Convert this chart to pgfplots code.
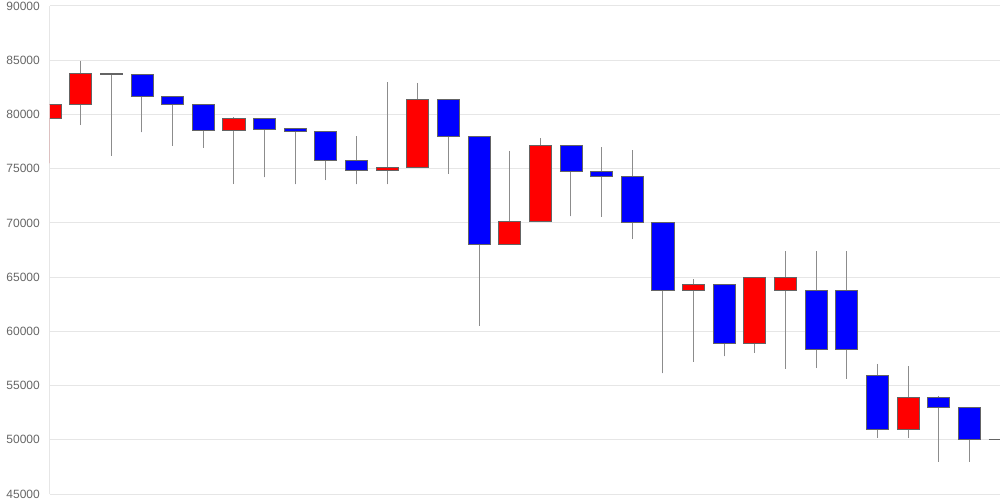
\documentclass[border=0pt]{standalone}
\usepackage{fontspec}
\setmainfont{Liberation Sans}
\usepackage{pgfplots}
\pgfplotsset{compat=1.18}
\usepgfplotslibrary{statistics}
\definecolor{gridcol}{RGB}{230,230,230}
\definecolor{labelcol}{RGB}{102,102,102}
\definecolor{bordercol}{RGB}{100,100,100}
\definecolor{wickcol}{RGB}{140,140,140}
\definecolor{upcol}{RGB}{255,0,0}
\definecolor{downcol}{RGB}{0,0,255}
\pgfplotsset{
  candlebase/.style={draw=bordercol, line width=0.8bp,
    boxplot/every whisker/.style={draw=wickcol, line width=1bp},
    boxplot/every median/.style={draw=bordercol, line width=0.8bp},
    boxplot/box extend=0.72, boxplot/whisker extend=0, boxplot/draw direction=y},
  candleup/.style={candlebase, fill=upcol},
  candledown/.style={candlebase, fill=downcol},
}
% #1 x, #2 open, #3 high, #4 low, #5 close
\newcommand{\candle}[5]{%
  \ifnum#5<#2\relax
    \def\candlelo{#5}\def\candlehi{#2}\def\candlecolor{candledown}%
  \else
    \def\candlelo{#2}\def\candlehi{#5}\def\candlecolor{candleup}%
  \fi
  \edef\candletmp{\noexpand\addplot[\candlecolor, boxplot prepared={draw position=#1, lower whisker=#4, lower quartile=\candlelo, median=#5, upper quartile=\candlehi, upper whisker=#3}] coordinates {};}%
  \candletmp
}
\begin{document}
\begin{tikzpicture}
\begin{axis}[
  scale only axis, width=950bp, height=488bp,
  xmin=0, xmax=31, ymin=45000, ymax=90000,
  ytick={45000,50000,...,90000},
  scaled y ticks=false,
  xtick={0}, xticklabels={},
  xmajorgrids, ymajorgrids,
  grid style={draw=gridcol, line width=1bp},
  axis line style={draw=none},
  major tick length=0,
  yticklabel style={font=\fontsize{12bp}{14bp}\selectfont, text=labelcol, anchor=east, inner sep=0pt, xshift=-10bp},
  /pgf/number format/1000 sep={},
  /pgf/number format/assume math mode=true,
]
\coordinate (o) at (rel axis cs:0,0);
\candle{0}{79640}{80930}{75490}{80930}
\candle{1}{80930}{84930}{79020}{83820}
\candle{2}{83820}{83820}{76190}{83700}
\candle{3}{83700}{83700}{78350}{81630}
\candle{4}{81650}{81650}{77110}{80930}
\candle{5}{80930}{80930}{76930}{78530}
\candle{6}{78530}{79760}{73580}{79640}
\candle{7}{79640}{79640}{74200}{78650}
\candle{8}{78680}{78680}{73550}{78440}
\candle{9}{78440}{78440}{73950}{75800}
\candle{10}{75800}{77980}{73550}{74810}
\candle{11}{74810}{82990}{73550}{75120}
\candle{12}{75120}{82900}{75120}{81390}
\candle{13}{81390}{81390}{74530}{77980}
\candle{14}{77980}{77980}{60510}{68020}
\candle{15}{68020}{76650}{68020}{70140}
\candle{16}{70140}{77800}{70140}{77110}
\candle{17}{77110}{77110}{70600}{74750}
\candle{18}{74750}{76960}{70570}{74290}
\candle{19}{74290}{76720}{68510}{70000}
\candle{20}{70000}{70000}{56120}{63800}
\candle{21}{63800}{64790}{57200}{64330}
\candle{22}{64330}{64330}{57690}{58880}
\candle{23}{58880}{65000}{58020}{65000}
\candle{24}{63770}{67400}{56540}{65000}
\candle{25}{63770}{67400}{56600}{58290}
\candle{26}{63770}{67400}{55620}{58290}
\candle{27}{55930}{57000}{50180}{51000}
\candle{28}{51000}{56790}{50150}{53870}
\candle{29}{53870}{54000}{47960}{52980}
\candle{30}{52980}{52980}{47960}{50000}
\candle{31}{50030}{51970}{50000}{50000}
\end{axis}
\pgfresetboundingbox
\path (o) ++(-50bp,-6bp) rectangle ++(1000bp,500bp);
\end{tikzpicture}
\end{document}
